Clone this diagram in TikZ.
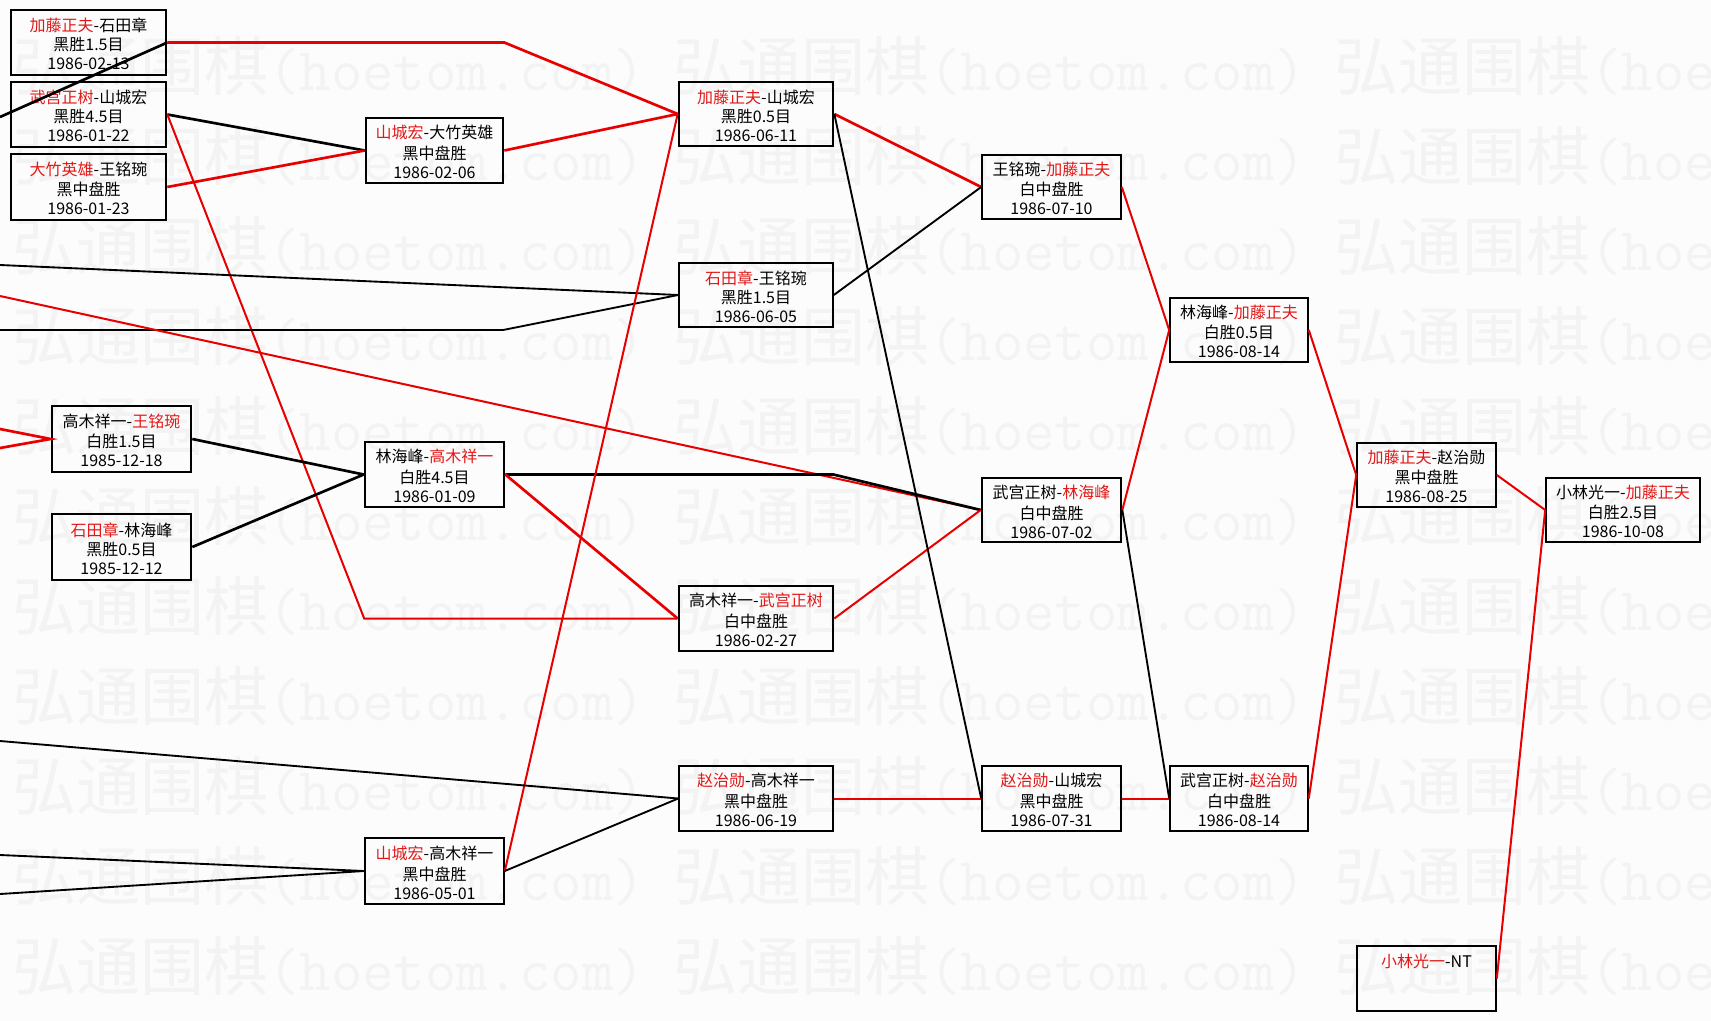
\documentclass[tikz,border=0pt]{standalone}
\usepackage{fontspec}
\newfontfamily\cjk{Noto Sans CJK SC}
\newfontfamily\wmcjk{Noto Sans CJK SC}
\definecolor{nred}{RGB}{226,24,24}
\definecolor{lred}{RGB}{232,0,0}
\definecolor{bgc}{RGB}{252,252,252}
\definecolor{wmc}{RGB}{243,243,243}
\newcommand\rn[1]{\textcolor{nred}{#1}}
\tikzset{
  gbox/.style={draw=black, rectangle, inner sep=0pt},
  thk/.style={line width=2pt},
  thn/.style={line width=1.2pt},
  gtxt/.style={align=center, inner sep=0pt, text=black, font=\cjk\fontsize{12}{14.25}\selectfont},
  wm/.style={text=wmc, inner sep=0pt, anchor=base west, font=\wmcjk\fontsize{48}{48}\selectfont},
  rl/.style={draw=lred, line width=1.5pt},
  rlt/.style={draw=lred, line width=2pt},
  bl/.style={draw=black, line width=1.4pt},
  blt/.style={draw=black, line width=2pt},
}
\newcommand\gb[9]{%
  \node[gbox,#6,minimum width={(#4-#2)*0.75pt},minimum height={(#5-#3)*0.75pt}] (#1) at ({(#2+#4)/2},{(#3+#5)/2}) {};
  \node[gtxt] (#1t) at ([yshift=-3.2pt]#1.center) {#7\strut\\#8\strut\\#9\strut};}
\begin{document}
\begin{tikzpicture}[x=0.75pt,y=-0.75pt]
\useasboundingbox (0,0) rectangle (1711,1021);
\clip (0,0) rectangle (1711,1021);
\fill[bgc] (0,0) rectangle (1711,1021);
% watermark
\foreach \r in {0,...,10}{
  \foreach \c in {0,1,2}{
    \node[wm] (wm-\r-\c) at ({12+661*\c},{90+90*\r}) {弘通围棋{\ttfamily\fontsize{45.7}{48}\selectfont(hoetom.com)}};
  }
}
% boxes
\gb{b1}{11}{10}{166}{75}{thk}{\rn{加藤正夫}-石田章}{黑胜1.5目}{1986-02-13}
\gb{b2}{11}{82}{166}{147}{thk}{\rn{武宫正树}-山城宏}{黑胜4.5目}{1986-01-22}
\gb{b3}{11}{154}{166}{220}{thk}{\rn{大竹英雄}-王铭琬}{黑中盘胜}{1986-01-23}
\gb{b4}{366}{118}{503}{183}{thk}{\rn{山城宏}-大竹英雄}{黑中盘胜}{1986-02-06}
\gb{b5}{52}{406}{191}{472}{thk}{高木祥一-\rn{王铭琬}}{白胜1.5目}{1985-12-18}
\gb{b6}{52}{514}{191}{580}{thk}{\rn{石田章}-林海峰}{黑胜0.5目}{1985-12-12}
\gb{b7}{365}{442}{504}{507}{thk}{林海峰-\rn{高木祥一}}{白胜4.5目}{1986-01-09}
\gb{b8}{365}{838}{504}{904}{thn}{\rn{山城宏}-高木祥一}{黑中盘胜}{1986-05-01}
\gb{b9}{679}{82}{833}{146}{thk}{\rn{加藤正夫}-山城宏}{黑胜0.5目}{1986-06-11}
\gb{b10}{679}{263}{833}{327}{thn}{\rn{石田章}-王铭琬}{黑胜1.5目}{1986-06-05}
\gb{b11}{679}{586}{833}{651}{thk}{高木祥一-\rn{武宫正树}}{白中盘胜}{1986-02-27}
\gb{b12}{679}{766}{833}{831}{thn}{\rn{赵治勋}-高木祥一}{黑中盘胜}{1986-06-19}
\gb{b13}{982}{155}{1121}{219}{thn}{王铭琬-\rn{加藤正夫}}{白中盘胜}{1986-07-10}
\gb{b14}{982}{478}{1121}{542}{thk}{武宫正树-\rn{林海峰}}{白中盘胜}{1986-07-02}
\gb{b15}{982}{766}{1121}{831}{thn}{\rn{赵治勋}-山城宏}{黑中盘胜}{1986-07-31}
\gb{b16}{1170}{298}{1308}{362}{thn}{林海峰-\rn{加藤正夫}}{白胜0.5目}{1986-08-14}
\gb{b17}{1170}{766}{1308}{831}{thn}{武宫正树-\rn{赵治勋}}{白中盘胜}{1986-08-14}
\gb{b18}{1357}{443}{1496}{507}{thn}{\rn{加藤正夫}-赵治勋}{黑中盘胜}{1986-08-25}
\gb{b19}{1546}{478}{1700}{542}{thn}{小林光一-\rn{加藤正夫}}{白胜2.5目}{1986-10-08}
\gb{b20}{1357}{946}{1496}{1011}{thn}{\rn{小林光一}-NT}{}{}
% free ends at the left edge
\coordinate (La) at (0,117);
\coordinate (Lg) at (0,265);
\coordinate (Li) at (0,296);
\coordinate (Lh) at (0,330);
\coordinate (Lj1) at (0,429);
\coordinate (Lj2) at (0,448);
\coordinate (Lr) at (0,741);
\coordinate (Ls) at (0,855);
\coordinate (Lt) at (0,894);
% connectors
\draw[blt] (La) -- (b1.east);
\draw[rlt] (b1.east) -- ++(337,0) -- (b9.west);
\draw[blt] (b2.east) -- (b4.west);
\draw[rlt] (b3.east) -- (b4.west);
\draw[rlt] (b4.east) -- (b9.west);
\draw[rl] (b2.east) -- (b8.west |- b11.west) -- (b11.west);
\draw[bl] (Lg) -- (b10.west);
\draw[bl] (Lh) -- ++(503,0) -- (b10.west);
\draw[rl] (Li) -- (b14.west);
\draw[rlt] (Lj1) -- (b5.west) -- (Lj2);
\draw[blt] (b5.east) -- (b7.west);
\draw[blt] (b6.east) -- (b7.west);
\draw[blt] (b7.east) -- ++(328,0) -- (b14.west);
\draw[rlt] (b7.east) -- (b11.west);
\draw[rl] (b11.east) -- (b14.west);
\draw[rl] (b8.east) -- (b9.west);
\draw[bl] (b8.east) -- (b12.west);
\draw[bl] (Lr) -- (b12.west);
\draw[bl] (Ls) -- (b8.west) -- (Lt);
\draw[rlt] (b9.east) -- (b13.west);
\draw[bl] (b10.east) -- (b13.west);
\draw[bl] (b9.east) -- (b15.west);
\draw[rl] (b12.east) -- (b15.west);
\draw[rl] (b13.east) -- (b16.west);
\draw[rl] (b14.east) -- (b16.west);
\draw[bl] (b14.east) -- (b17.west);
\draw[rl] (b15.east) -- (b17.west);
\draw[rl] (b16.east) -- (b18.west);
\draw[rl] (b17.east) -- (b18.west);
\draw[rl] (b18.east) -- (b19.west);
\draw[rl] (b20.east) -- (b19.west);
\end{tikzpicture}
\end{document}
